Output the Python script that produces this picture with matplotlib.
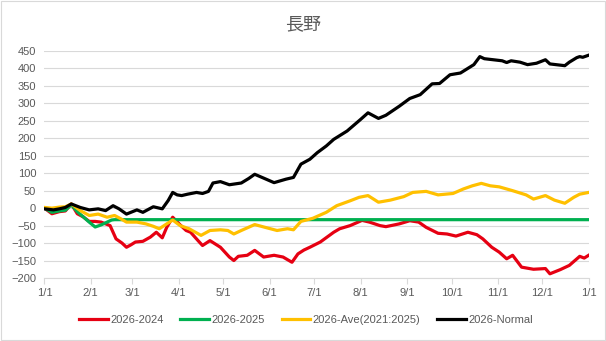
import matplotlib
matplotlib.use("Agg")
import matplotlib.pyplot as plt
from matplotlib.patches import Rectangle

# day of year (0 = 1/1) and cumulative differences
month_labels = ["1/1", "2/1", "3/1", "4/1", "5/1", "6/1", "7/1",
                "8/1", "9/1", "10/1", "11/1", "12/1", "1/1"]
month_days = [0, 31, 59, 90, 120, 151, 181, 212, 243, 273, 304, 334, 365]

red_days = [0, 5, 10, 14, 18, 22, 26, 30, 34, 38, 44, 48, 52, 55, 58, 61, 66, 71, 75, 79,
            82, 86, 91, 95, 98, 103, 106, 111, 118, 124, 127, 130, 136, 141, 147, 154, 160,
            166, 170, 174, 178, 185, 194, 198, 205, 213, 218, 225, 229, 238, 245, 251,
            256, 264, 270, 276, 284, 290, 294, 300, 305, 310, 314, 320, 328, 336, 339,
            346, 352, 359, 362, 365]
red_vals = [0, -16, -10, -8, 12, -16, -25, -38, -38, -40, -50, -88, -100, -112, -105, -97,
            -95, -83, -69, -85, -55, -26, -48, -64, -69, -93, -107, -93, -112, -140, -150,
            -138, -135, -121, -140, -135, -140, -155, -131, -120, -112, -97, -69, -59, -50,
            -35, -40, -50, -53, -45, -36, -40, -55, -72, -74, -80, -69, -76, -88, -112,
            -126, -145, -135, -169, -175, -173, -188, -176, -164, -138, -143, -135]

green_days = [0, 5, 10, 14, 18, 22, 26, 30, 34, 38, 42, 45, 47, 365]
green_vals = [0, -12, -8, -6, 10, -10, -25, -40, -54, -48, -40, -34, -33, -33]

ave_days = [0, 5, 10, 14, 18, 24, 30, 36, 42, 47, 51, 55, 62, 68, 73, 77, 82, 86, 91, 97,
            105, 111, 118, 123, 127, 132, 141, 148, 156, 163, 167, 172, 180, 189, 196, 205,
            211, 217, 224, 232, 241, 247, 256, 264, 274, 281, 287, 293, 299, 305, 314, 323,
            328, 336, 342, 349, 355, 359, 365]
ave_vals = [2, 0, 3, 4, 12, -7, -21, -17, -26, -21, -30, -40, -40, -45, -52, -59, -45, -34,
            -50, -59, -78, -64, -62, -64, -74, -64, -47, -55, -64, -59, -62, -38, -29, -12,
            7, 21, 31, 36, 17, 23, 33, 45, 48, 38, 42, 55, 64, 71, 64, 61, 50, 38, 26, 36,
            23, 14, 31, 40, 45]

normal_days = [0, 6, 10, 14, 18, 24, 30, 36, 41, 46, 50, 55, 62, 66, 73, 79, 83, 86, 89, 92,
               96, 102, 106, 110, 113, 118, 124, 132, 137, 141, 147, 154, 162, 167, 172,
               178, 183, 189, 194, 203, 212, 217, 224, 229, 238, 245, 252, 260, 265, 272,
               279, 288, 292, 295, 301, 307, 310, 313, 319, 324, 330, 336, 339, 343, 349,
               352, 357, 359, 361, 365]
normal_vals = [-2, -5, -2, 2, 12, 2, -5, -2, -7, 7, -2, -17, -5, -12, 4, -2, 22, 45, 38, 36,
               40, 45, 42, 48, 72, 76, 67, 72, 85, 97, 86, 73, 83, 88, 126, 140, 159, 178,
               197, 221, 254, 273, 257, 266, 292, 314, 325, 356, 357, 382, 387, 411, 434,
               428, 425, 422, 417, 422, 418, 411, 415, 425, 413, 411, 408, 418, 431, 434,
               432, 438]

series = [
    ("2026-2024", red_days, red_vals, "#E60012"),
    ("2026-2025", green_days, green_vals, "#00B050"),
    ("2026-Ave(2021:2025)", ave_days, ave_vals, "#FFC000"),
    ("2026-Normal", normal_days, normal_vals, "#000000"),
]

plt.rcParams["font.family"] = ["Liberation Sans", "Noto Sans CJK JP"]

fig = plt.figure(figsize=(6.06, 3.41), dpi=100)
ax = fig.add_axes([0.0734, 0.1848, 0.898, 0.6656])

for name, d, v, c in series:
    ax.plot(d, v, color=c, lw=2.3, label=name, solid_joinstyle="round")

ax.set_xlim(0, 365)
ax.set_ylim(-200, 450)
ax.set_yticks(range(-200, 451, 50))
ax.set_xticks(month_days)
ax.set_xticklabels(month_labels)
ax.grid(axis="y", color="#D9D9D9", lw=0.8)
ax.set_axisbelow(True)
for s in ["left", "right", "top"]:
    ax.spines[s].set_visible(False)
ax.spines["bottom"].set_color("#D9D9D9")
ax.tick_params(axis="y", length=0, labelsize=8, colors="#595959", pad=6)
ax.tick_params(axis="x", length=4, color="#D9D9D9", labelsize=8, labelcolor="#595959", pad=3)

fig.text(0.5, 0.93, "長野", ha="center", va="center", fontsize=13, color="#595959",
         family=["Noto Sans CJK JP"])

fig.legend(loc="center", bbox_to_anchor=(0.505, 0.062), ncol=4, frameon=False, fontsize=8,
           handlelength=2.6, columnspacing=1.5, handletextpad=0.2,
           labelcolor="#595959")

fig.patches.append(Rectangle((0.001, 0.002), 0.997, 0.995, transform=fig.transFigure,
                             fill=False, edgecolor="#D9D9D9", lw=0.8))

fig.savefig("out.png", dpi=100)
